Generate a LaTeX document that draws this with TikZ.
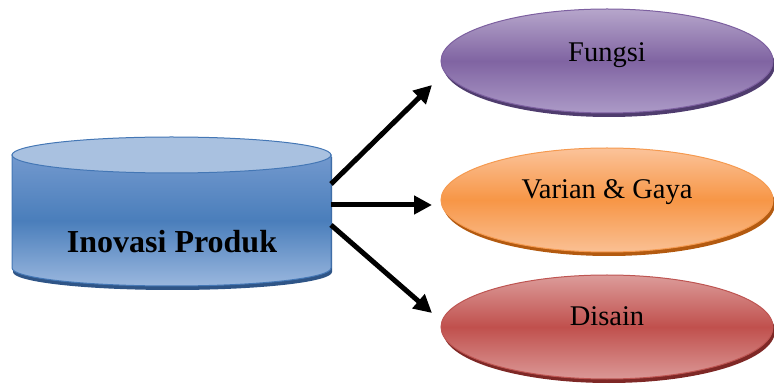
\documentclass[tikz,border=0pt]{standalone}
\usepackage{fontspec}
\setmainfont{Liberation Serif}
\usetikzlibrary{arrows.meta,shapes.geometric}
\definecolor{cylTop}{HTML}{A9C1E0}
\definecolor{cylA}{HTML}{7399CE}
\definecolor{cylB}{HTML}{4A7EBB}
\definecolor{cylC}{HTML}{9AB7DE}
\definecolor{cylLine}{HTML}{4477B5}
\definecolor{cylShadow}{HTML}{2F5587}
\definecolor{puA}{HTML}{B6A6CB}
\definecolor{puB}{HTML}{8064A2}
\definecolor{puC}{HTML}{AC9AC7}
\definecolor{puLine}{HTML}{7D60A0}
\definecolor{puSh}{HTML}{4F3C6E}
\definecolor{orA}{HTML}{FBC39A}
\definecolor{orB}{HTML}{F79646}
\definecolor{orC}{HTML}{FAC094}
\definecolor{orLine}{HTML}{F59A50}
\definecolor{orSh}{HTML}{B35A10}
\definecolor{rdA}{HTML}{DC9C9A}
\definecolor{rdB}{HTML}{C0504D}
\definecolor{rdC}{HTML}{DB9896}
\definecolor{rdLine}{HTML}{BE5552}
\definecolor{rdSh}{HTML}{7E2826}
\tikzset{
  x=1pt,y=1pt,
  oval/.style={ellipse, minimum width=332pt, minimum height=104pt, inner sep=0pt, line width=1pt},
  ovalshadow/.style={ellipse, minimum width=332pt, minimum height=104pt, inner sep=0pt},
  lbl/.style={anchor=base, font=\fontsize{28.5}{30}\selectfont},
  arr/.style={line width=5pt, -{Triangle[length=18pt,width=18pt]}}
}
\begin{document}
\begin{tikzpicture}
\useasboundingbox (0,0) rectangle (774,383);
% cylinder shadow
\fill[cylShadow] (13,226) -- (13,111) arc[start angle=180,end angle=360,x radius=159.5,y radius=18] -- (332,226) -- cycle;
% cylinder body
\path[draw=cylLine, line width=1pt, top color=cylA, bottom color=cylC, middle color=cylB]
  (12,228) -- (12,115) arc[start angle=180,end angle=360,x radius=159.5,y radius=18] -- (331,228) -- cycle;
% cylinder top
\path[draw=cylLine, line width=1pt, fill=cylTop] (171.5,228) ellipse[x radius=159.5, y radius=18];
\node[font=\bfseries\fontsize{32}{34}\selectfont] (inov) at (172,141) {Inovasi Produk};
% ellipses
\node[ovalshadow, fill=puSh] (fsh) at (609,318) {};
\node[oval, draw=puLine, top color=puA, bottom color=puC, middle color=puB] (fungsi) at (607,322) {};
\node[lbl] (tf) at (607,321) {Fungsi};
\node[ovalshadow, fill=orSh] (vsh) at (609,179) {};
\node[oval, draw=orLine, top color=orA, bottom color=orC, middle color=orB] (varian) at (607,183) {};
\node[lbl] (tv) at (607,184) {Varian \& Gaya};
\node[ovalshadow, fill=rdSh] (dsh) at (609,52) {};
\node[oval, draw=rdLine, top color=rdA, bottom color=rdC, middle color=rdB] (disain) at (607,56) {};
\node[lbl] (td) at (607,57) {Disain};
% arrows
\coordinate (s1) at (331,199);
\coordinate (s2) at (331,178);
\coordinate (s3) at (331,158);
\coordinate (e1) at (432,298);
\coordinate (e2) at (432,178);
\coordinate (e3) at (432,70);
\draw[arr] (s1) -- (e1);
\draw[arr] (s2) -- (e2);
\draw[arr] (s3) -- (e3);
\end{tikzpicture}
\end{document}
